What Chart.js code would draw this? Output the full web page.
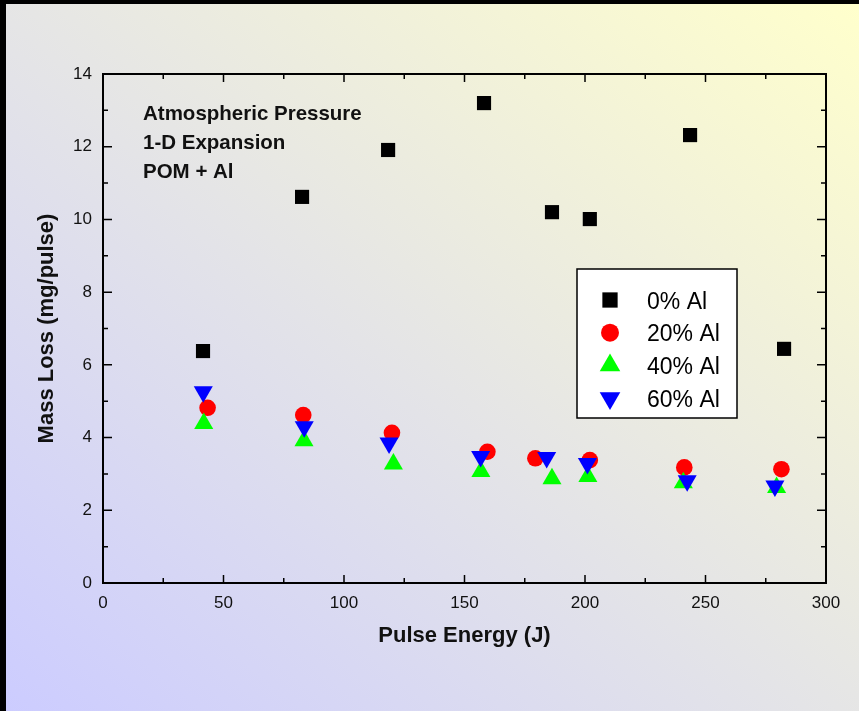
<!DOCTYPE html>
<html>
<head>
<meta charset="utf-8">
<script src="https://cdn.jsdelivr.net/npm/chart.js@4.4.1/dist/chart.umd.min.js"></script>
<style>
  html, body { margin: 0; padding: 0; background: #000; }
  #frame {
    position: absolute; left: 6px; top: 4px; width: 853px; height: 707px;
    background: linear-gradient(to top right, #ccccff, #ffffcc);
  }
  canvas { display: block; }
</style>
</head>
<body>
<div id="frame"><canvas id="massLoss" width="853" height="707"></canvas></div>
<script>
// mass loss per pulse vs pulse energy, four Al loadings
var seriesLabels = ['0% Al', '20% Al', '40% Al', '60% Al'];

var energy0 = [41.5, 82.6, 118.3, 158.1, 186.3, 202.0, 243.6, 282.6];
var loss0   = [6.38, 10.62, 11.91, 13.2, 10.2, 10.01, 12.32, 6.44];

var energy20 = [43.4, 83.1, 119.9, 159.5, 179.4, 202.0, 241.2, 281.5];
var loss20   = [4.82, 4.62, 4.13, 3.61, 3.43, 3.38, 3.18, 3.13];

var energy40 = [41.8, 83.4, 120.5, 156.8, 186.3, 201.2, 240.8, 279.5];
var loss40   = [4.39, 3.91, 3.27, 3.07, 2.87, 2.93, 2.76, 2.63];

var energy60 = [41.6, 83.5, 118.7, 156.7, 184.1, 201.0, 242.4, 278.8];
var loss60   = [5.26, 4.30, 3.85, 3.48, 3.45, 3.29, 2.81, 2.67];

var noteLines = ['Atmospheric Pressure', '1-D Expansion', 'POM + Al'];

var xMin = 0, xMax = 300, xMajor = 50, xMinor = 25;
var yMin = 0, yMax = 14, yMajor = 2, yMinor = 1;

var FONT = "'Liberation Sans', Arial, Helvetica, sans-serif";

function pairs(xs, ys) {
  return xs.map(function (x, i) { return { x: x, y: ys[i] }; });
}

// inward ticks on all four sides plus the closed frame
var frameTicks = {
  id: 'frameTicks',
  afterDraw: function (chart) {
    var c = chart.ctx, a = chart.chartArea;
    var xs = chart.scales.x, ys = chart.scales.y;
    c.save();
    c.strokeStyle = '#000';
    c.lineWidth = 1.5;
    c.beginPath();
    for (var v = xMin; v <= xMax; v += xMinor) {
      var px = xs.getPixelForValue(v);
      var len = v % xMajor === 0 ? 8 : 5;
      c.moveTo(px, a.bottom); c.lineTo(px, a.bottom - len);
      c.moveTo(px, a.top); c.lineTo(px, a.top + len);
    }
    for (var w = yMin; w <= yMax; w += yMinor) {
      var py = ys.getPixelForValue(w);
      var l2 = w % yMajor === 0 ? 9 : 5;
      c.moveTo(a.left, py); c.lineTo(a.left + l2, py);
      c.moveTo(a.right, py); c.lineTo(a.right - l2, py);
    }
    c.stroke();
    c.lineWidth = 2;
    c.strokeRect(a.left, a.top, a.right - a.left, a.bottom - a.top);
    c.restore();
  }
};

// boxed legend inside the plot and the three-line note
var insideLegend = {
  id: 'insideLegend',
  afterDraw: function (chart) {
    var c = chart.ctx, a = chart.chartArea;
    var bx = a.left + 474, by = a.top + 195, bw = 160, bh = 149;
    c.save();
    c.fillStyle = '#fff';
    c.fillRect(bx, by, bw, bh);
    c.strokeStyle = '#000';
    c.lineWidth = 1.5;
    c.strokeRect(bx, by, bw, bh);

    c.font = '23px ' + FONT;
    c.textAlign = 'left';
    c.textBaseline = 'alphabetic';
    chart.data.datasets.forEach(function (ds, i) {
      var cy = a.top + 226 + i * 32.7;
      c.fillStyle = ds.backgroundColor;
      Chart.helpers.drawPoint(c, {
        pointStyle: ds.pointStyle,
        rotation: ds.pointRotation || 0,
        radius: ds.pointRadius * 1.08,
        borderWidth: 0
      }, a.left + 507, cy);
      c.fillStyle = '#000';
      c.fillText(ds.label, a.left + 544, cy + 8.5);
    });

    c.font = 'bold 20.5px ' + FONT;
    c.fillStyle = '#111';
    noteLines.forEach(function (t, i) {
      c.fillText(t, a.left + 40, a.top + 46 + i * 29);
    });
    c.restore();
  }
};

var ctx = document.getElementById('massLoss');
var myChart = new Chart(ctx, {
  type: 'scatter',
  plugins: [frameTicks, insideLegend],
  data: {
    datasets: [
      {
        label: seriesLabels[0],
        data: pairs(energy0, loss0),
        pointStyle: 'rect',
        pointRadius: 10,
        backgroundColor: '#000000',
        borderWidth: 0,
        order: 3
      },
      {
        label: seriesLabels[1],
        data: pairs(energy20, loss20),
        pointStyle: 'circle',
        pointRadius: 8.3,
        backgroundColor: '#ff0000',
        borderWidth: 0,
        order: 2
      },
      {
        label: seriesLabels[2],
        data: pairs(energy40, loss40),
        pointStyle: 'triangle',
        pointRadius: 11,
        backgroundColor: '#00ff00',
        borderWidth: 0,
        order: 1
      },
      {
        label: seriesLabels[3],
        data: pairs(energy60, loss60),
        pointStyle: 'triangle',
        pointRotation: 180,
        pointRadius: 11,
        backgroundColor: '#0000ff',
        borderWidth: 0,
        order: 0
      }
    ]
  },
  options: {
    responsive: false,
    animation: false,
    layout: {
      padding: { top: 70, right: 33, left: 0, bottom: 0 }
    },
    plugins: {
      legend: { display: false },
      tooltip: { enabled: false }
    },
    scales: {
      x: {
        type: 'linear',
        min: xMin,
        max: xMax,
        afterFit: function (scale) { scale.height = 128; },
        grid: { display: false, drawTicks: false },
        border: { display: false },
        ticks: {
          stepSize: xMajor,
          padding: 10,
          maxRotation: 0,
          color: '#111',
          font: { family: FONT, size: 17 }
        },
        title: {
          display: true,
          text: 'Pulse Energy (J)',
          color: '#111',
          font: { family: FONT, size: 22, weight: 'bold' },
          padding: { top: 0, bottom: 62 }
        }
      },
      y: {
        type: 'linear',
        min: yMin,
        max: yMax,
        afterFit: function (scale) { scale.width = 97; },
        grid: { display: false, drawTicks: false },
        border: { display: false },
        ticks: {
          stepSize: yMajor,
          padding: 11,
          color: '#111',
          font: { family: FONT, size: 17 }
        },
        title: {
          display: true,
          text: 'Mass Loss (mg/pulse)',
          color: '#111',
          font: { family: FONT, size: 22, weight: 'bold' },
          padding: { top: 28, bottom: 0 }
        }
      }
    }
  }
});
</script>
</body>
</html>
